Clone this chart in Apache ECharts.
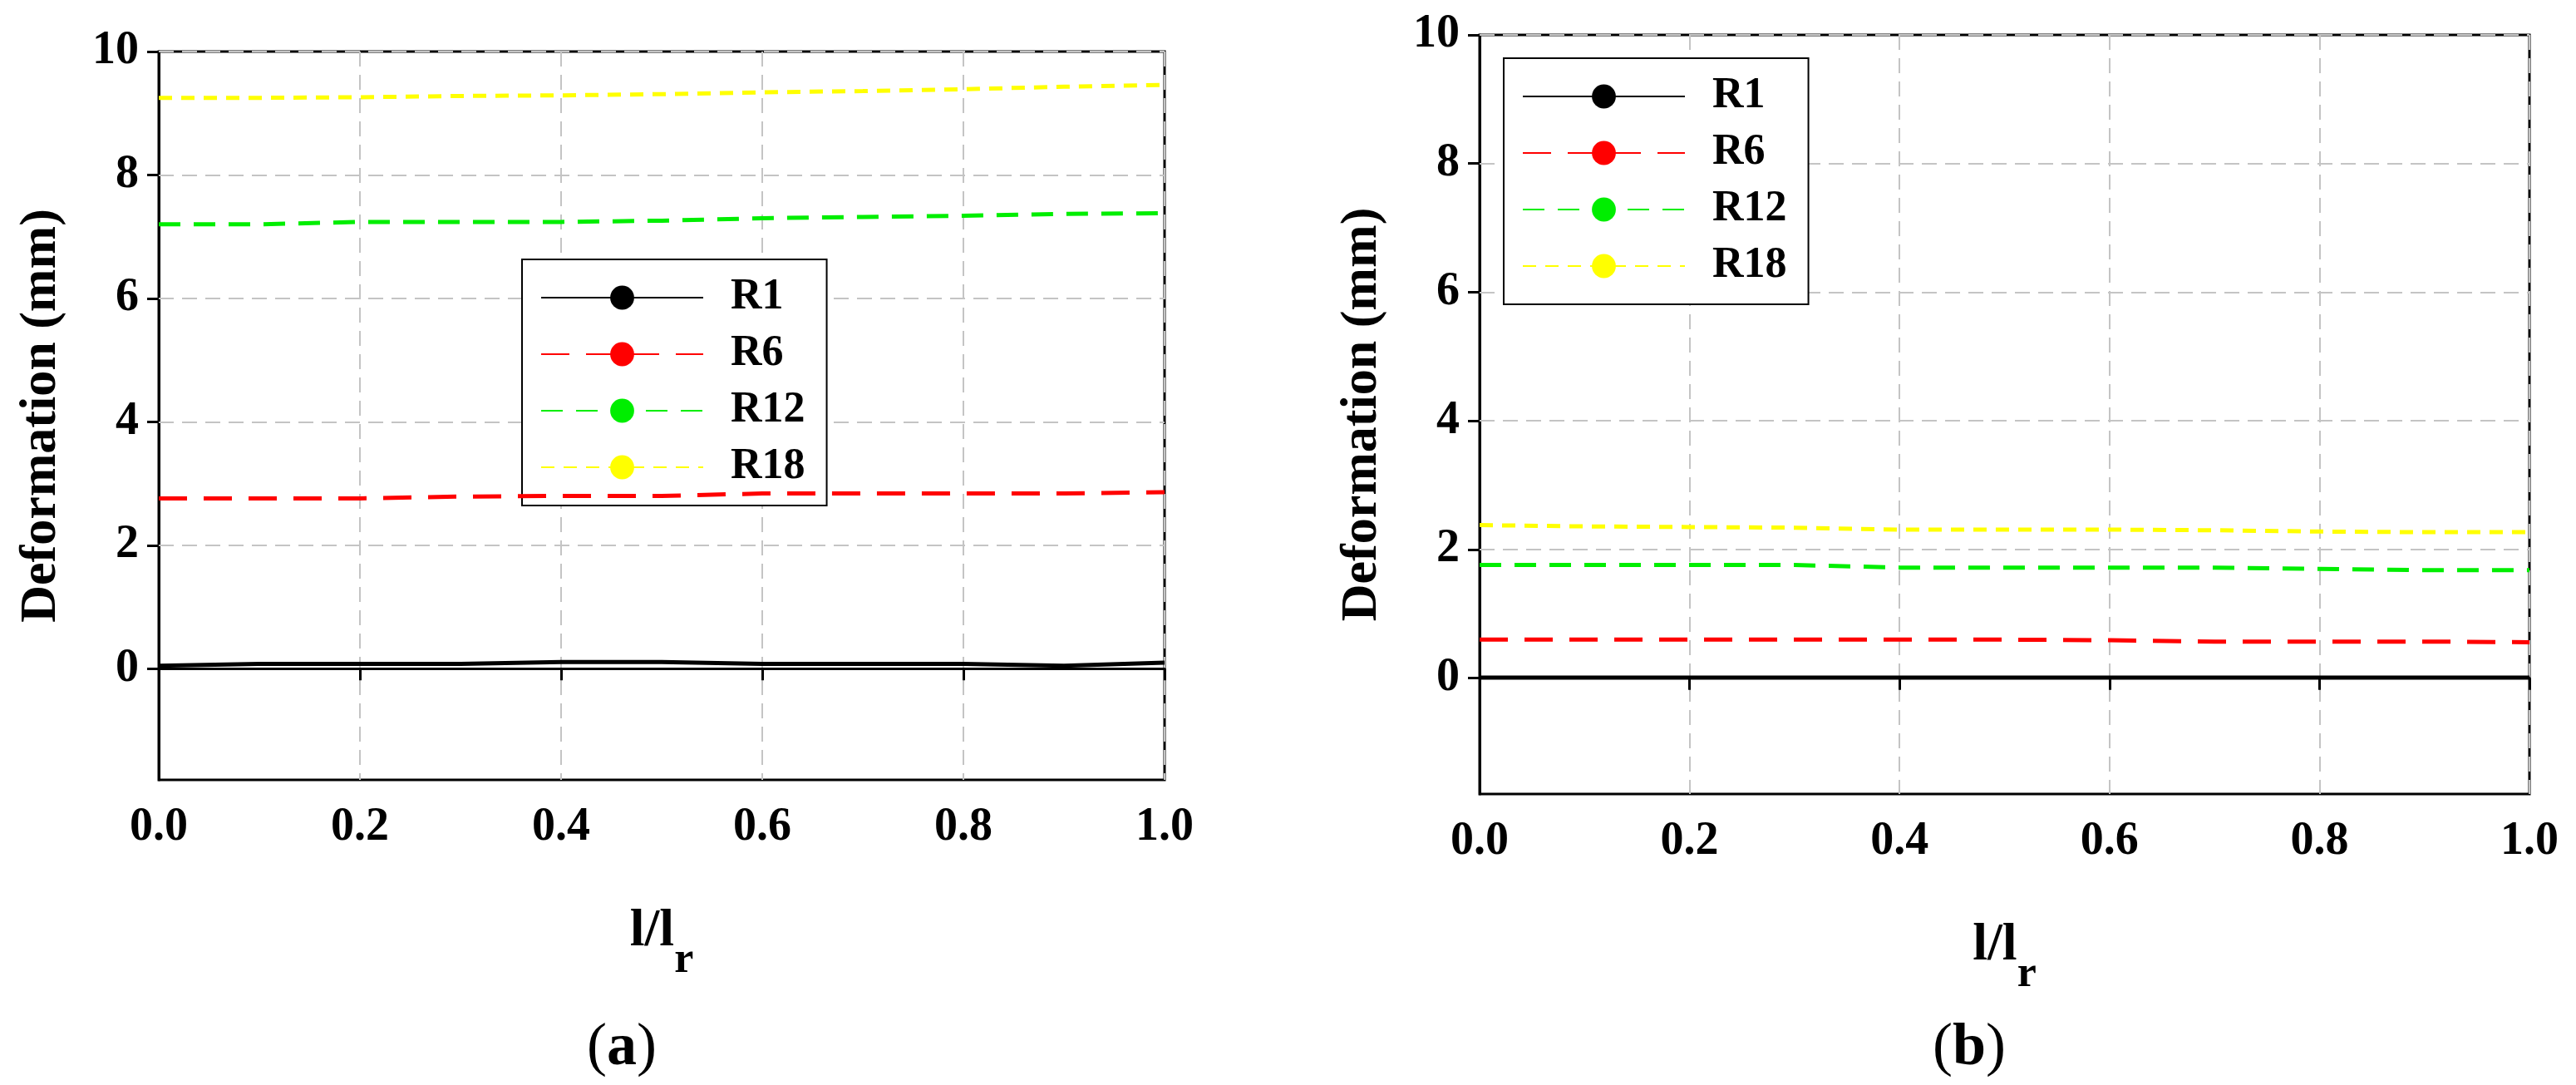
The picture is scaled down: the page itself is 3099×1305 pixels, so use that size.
<!DOCTYPE html>
<html>
<head>
<meta charset="utf-8">
<script src="https://cdn.jsdelivr.net/npm/echarts@6/dist/echarts.min.js"></script>
<style>html,body{margin:0;background:#fff}#c{width:3099px;height:1305px}</style>
</head>
<body>
<div id="c"></div>
<script>
// x positions l/lr
const xs = [0, 0.1, 0.2, 0.3, 0.4, 0.5, 0.6, 0.7, 0.8, 0.9, 1.0];
// (a)
const aR1 = [0.05, 0.08, 0.08, 0.08, 0.11, 0.11, 0.08, 0.08, 0.08, 0.05, 0.1];
const aR6 = [2.76, 2.76, 2.76, 2.79, 2.80, 2.80, 2.84, 2.84, 2.84, 2.84, 2.86];
const aR12 = [7.20, 7.20, 7.24, 7.24, 7.24, 7.26, 7.30, 7.32, 7.34, 7.37, 7.38];
const aR18 = [9.25, 9.25, 9.26, 9.28, 9.29, 9.31, 9.34, 9.36, 9.39, 9.43, 9.46];
// (b)
const bR1 = [0.01, 0.01, 0.01, 0.01, 0.01, 0.01, 0.01, 0.01, 0.01, 0.01, 0.01];
const bR6 = [0.60, 0.60, 0.60, 0.60, 0.60, 0.60, 0.59, 0.57, 0.57, 0.57, 0.56];
const bR12 = [1.76, 1.76, 1.76, 1.76, 1.72, 1.72, 1.72, 1.72, 1.70, 1.68, 1.68];
const bR18 = [2.38, 2.36, 2.35, 2.34, 2.31, 2.31, 2.31, 2.30, 2.28, 2.27, 2.27];
const yTicks = [0, 2, 4, 6, 8, 10];
const gridY = [2, 4, 6, 8, 10];

const font = 'Liberation Serif';
const chart = echarts.init(document.getElementById('c'));

function pair(ys) { return xs.map((x, i) => [x, ys[i]]); }

const styles = {
  R1: {color: '#000', type: 'solid'},
  R6: {color: '#ff0000', type: [34, 20]},
  R12: {color: '#00ee00', type: [26, 16]},
  R18: {color: '#ffff00', type: [16, 11]}
};

function seriesFor(idx, data) {
  return Object.keys(data).map((name, k) => {
    const s = {
      name: name, type: 'line', xAxisIndex: idx, yAxisIndex: idx,
      data: pair(data[name]), showSymbol: false, symbol: 'none',
      lineStyle: {color: styles[name].color, type: styles[name].type, width: 5},
      itemStyle: {color: styles[name].color},
      z: 5 - k
    };
    if (k === 0) {
      s.markLine = {
        silent: true, symbol: 'none', label: {show: false}, z: 1,
        lineStyle: {color: '#c4c4c4', type: [18, 10], width: 2},
        data: gridY.map(v => ({yAxis: v}))
      };
    }
    return s;
  });
}

function xAxis(idx) {
  return {
    gridIndex: idx, type: 'value', min: 0, max: 1, interval: 0.2,
    name: '{a|l/l}{s|r}', nameLocation: 'middle', nameGap: 150,
    nameTextStyle: {rich: {
      a: {fontFamily: font, fontWeight: 'bold', fontSize: 64, color: '#000'},
      s: {fontFamily: font, fontWeight: 'bold', fontSize: 52, color: '#000', verticalAlign: 'bottom', padding: [0, 0, -30, 0]}
    }},
    axisLine: {lineStyle: {color: '#000', width: 3}},
    axisTick: {show: true, length: 14, inside: false, lineStyle: {color: '#000', width: 3}},
    axisLabel: {fontFamily: font, fontWeight: 'bold', fontSize: 56, color: '#000', margin: 30,
      formatter: v => v.toFixed(1)},
    splitLine: {show: true, lineStyle: {color: '#c4c4c4', type: [18, 10], width: 2}}
  };
}

function yAxis(idx) {
  return {
    gridIndex: idx, type: 'value', min: -1.8, max: 10,
    name: 'Deformation (mm)', nameLocation: 'middle', nameGap: 110,
    nameTextStyle: {fontFamily: font, fontWeight: 'bold', fontSize: 62, color: '#000'},
    axisLine: {lineStyle: {color: '#000', width: 3}},
    axisTick: {show: true, length: 14, lineStyle: {color: '#000', width: 3}, customValues: yTicks},
    axisLabel: {fontFamily: font, fontWeight: 'bold', fontSize: 56, color: '#000', margin: 24, customValues: yTicks},
    splitLine: {show: false}
  };
}

function legend(left, top) {
  return {
    left: left, top: top, orient: 'vertical',
    backgroundColor: '#fff', borderColor: '#000', borderWidth: 2,
    padding: [20, 26, 20, 22], itemGap: 16, itemWidth: 195, itemHeight: 36,
    textStyle: {fontFamily: font, fontWeight: 'bold', fontSize: 52, color: '#000', padding: [0, 0, 0, 28]},
    data: ['R1', 'R6', 'R12', 'R18'], selectedMode: false
  };
}

chart.setOption({
  animation: false,
  grid: [
    {left: 191, top: 62, width: 1210, height: 876, show: true, borderColor: '#000', borderWidth: 3},
    {left: 1780, top: 42, width: 1263, height: 913, show: true, borderColor: '#000', borderWidth: 3}
  ],
  xAxis: [xAxis(0), xAxis(1)],
  yAxis: [yAxis(0), yAxis(1)],
  legend: [legend(628, 312), legend(1809, 70)],
  series: seriesFor(0, {R1: aR1, R6: aR6, R12: aR12, R18: aR18})
    .concat(seriesFor(1, {R1: bR1, R6: bR6, R12: bR12, R18: bR18})),
  graphic: [
    {type: 'text', left: 706, top: 1225, style: {text: '({a|a})', font: '72px "Liberation Serif"', fill: '#000',
      rich: {a: {fontFamily: font, fontWeight: 'bold', fontSize: 72, fill: '#000'}}}},
    {type: 'text', left: 2325, top: 1225, style: {text: '({a|b})', font: '72px "Liberation Serif"', fill: '#000',
      rich: {a: {fontFamily: font, fontWeight: 'bold', fontSize: 72, fill: '#000'}}}}
  ]
});
</script>
</body>
</html>
